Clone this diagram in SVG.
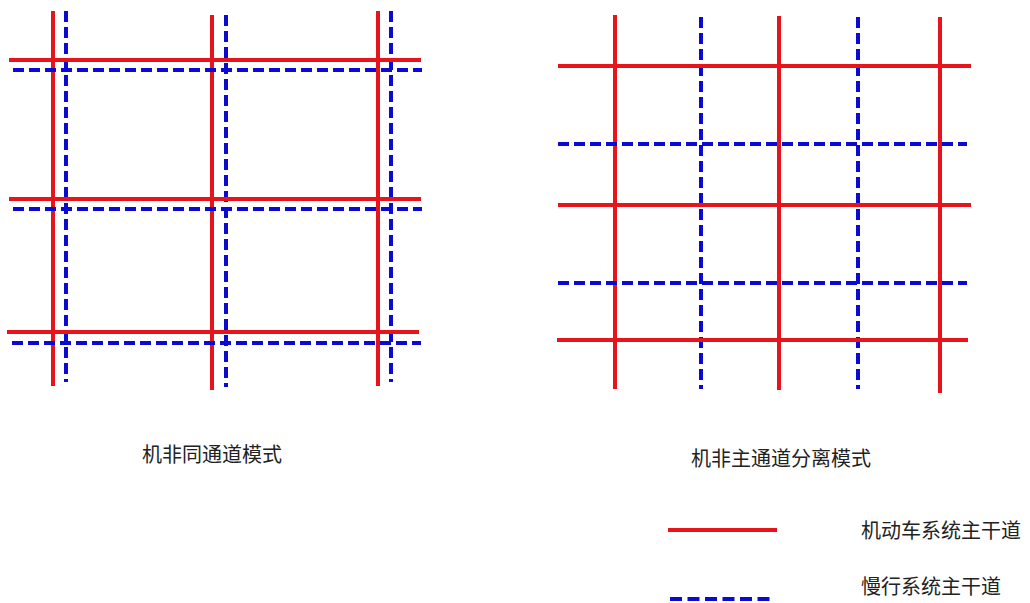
<svg xmlns="http://www.w3.org/2000/svg" width="1030" height="603" viewBox="0 0 1030 603">
<style>
.r{stroke:#e8141b;stroke-width:4;fill:none}
.b{stroke:#0a0ad2;stroke-width:4;fill:none;stroke-dasharray:11 5}
.t{font-family:"Noto Sans CJK SC","Noto Sans",sans-serif;font-size:20px;fill:#222}
</style>
<rect width="1030" height="603" fill="#fff"/>
<g id="left-grid">
<line class="r" x1="53" y1="11" x2="53" y2="386"/>
<line class="r" x1="212" y1="15" x2="212" y2="390"/>
<line class="r" x1="378" y1="11" x2="378" y2="386"/>
<line class="b" x1="66" y1="11" x2="66" y2="382"/>
<line class="b" x1="226" y1="15" x2="226" y2="387"/>
<line class="b" x1="391" y1="11" x2="391" y2="382"/>
<line class="r" x1="9" y1="60" x2="421" y2="60"/>
<line class="r" x1="9" y1="199" x2="421" y2="199"/>
<line class="r" x1="7" y1="332" x2="419" y2="332"/>
<line class="b" x1="13" y1="70" x2="422" y2="70"/>
<line class="b" x1="13" y1="209" x2="422" y2="209"/>
<line class="b" x1="12" y1="343" x2="421" y2="343"/>
</g>
<g id="right-grid">
<line class="r" x1="615" y1="15" x2="615" y2="389"/>
<line class="r" x1="779" y1="16" x2="779" y2="390"/>
<line class="r" x1="940" y1="17" x2="940" y2="393"/>
<line class="b" x1="701" y1="17" x2="701" y2="389"/>
<line class="b" x1="858" y1="17" x2="858" y2="389"/>
<line class="r" x1="558" y1="66" x2="971" y2="66"/>
<line class="r" x1="558" y1="205" x2="971" y2="205"/>
<line class="r" x1="557" y1="340" x2="968" y2="340"/>
<line class="b" x1="558" y1="144" x2="967" y2="144"/>
<line class="b" x1="558" y1="283" x2="967" y2="283"/>
</g>
<g id="captions">
<text class="t" x="142" y="462">机非同通道模式</text>
<text class="t" x="691" y="466">机非主通道分离模式</text>
</g>
<g id="legend">
<line class="r" x1="668" y1="530" x2="777" y2="530"/>
<line x1="670" y1="599" x2="774" y2="599" stroke="#0a0ad2" stroke-width="4" stroke-dasharray="12 5.5"/>
<text class="t" x="861" y="538">机动车系统主干道</text>
<text class="t" x="861" y="594">慢行系统主干道</text>
</g>
</svg>
